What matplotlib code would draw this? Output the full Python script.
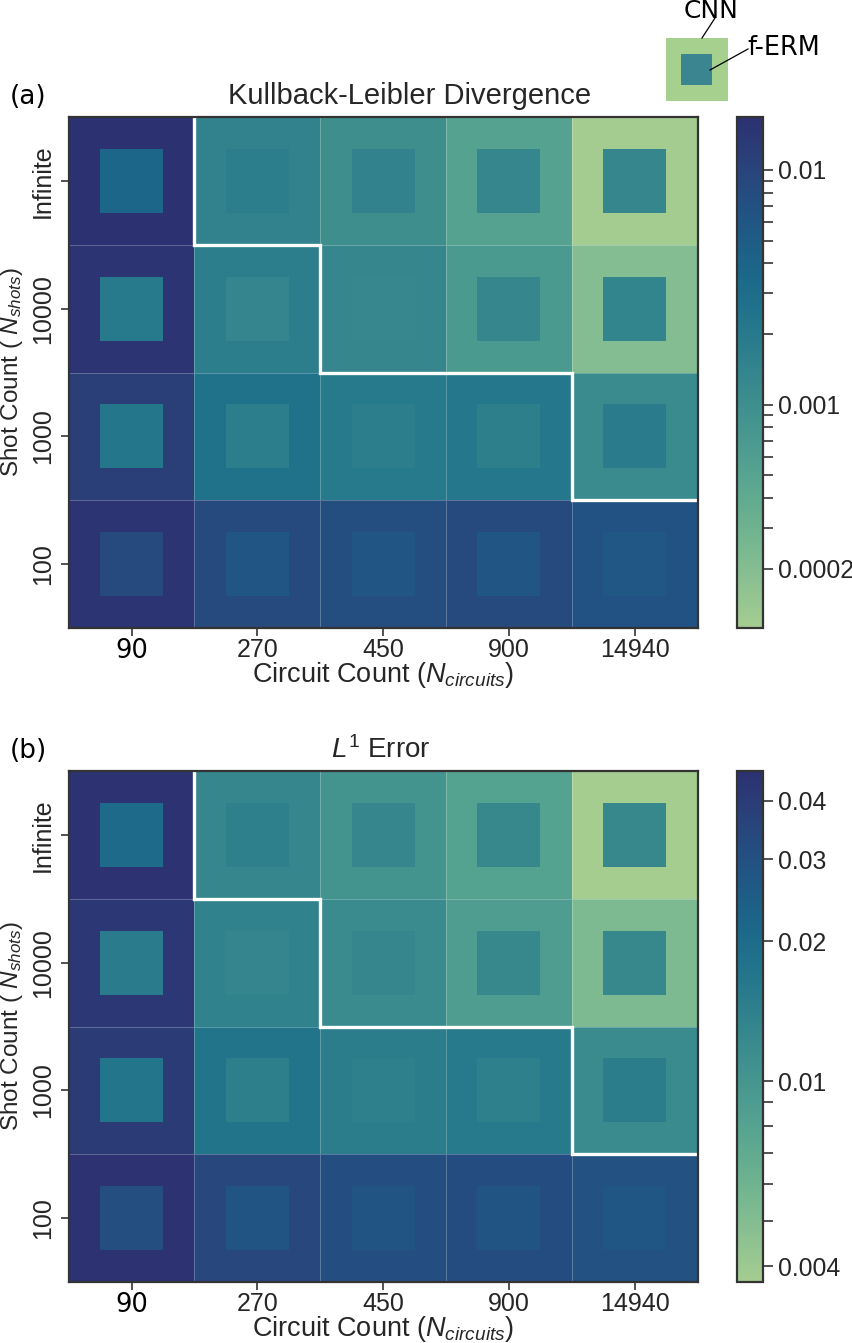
import matplotlib
matplotlib.use('Agg')
import matplotlib.pyplot as plt
from matplotlib.colors import LogNorm
from matplotlib.patches import Rectangle
from matplotlib.ticker import FixedLocator, FixedFormatter, NullFormatter
import numpy as np
import seaborn as sns

circuits = ['90', '270', '450', '900', '14940']
shots = ['Infinite', '10000', '1000', '100']

# outer square = CNN, inner square = f-ERM
kl_cnn = [[.0168, .00150, .00102, .00052, .000115],
          [.0155, .00176, .0013, .00068, .000205],
          [.0118, .0026, .00205, .00215, .00112],
          [.0155, .0085, .0078, .0085, .0066]]
kl_erm = [[.00368, .00176, .0015, .0013, .0013],
          [.00205, .00137, .00122, .0013, .00145],
          [.00226, .00176, .00176, .00167, .00186],
          [.0085, .0062, .0062, .0062, .0058]]
l1_cnn = [[.0453, .0128, .0104, .0081, .0037],
          [.0418, .0139, .0118, .0089, .0053],
          [.0408, .0173, .0150, .0161, .0119],
          [.0453, .0342, .0309, .0318, .0295]]
l1_erm = [[.0206, .0143, .0128, .0125, .0125],
          [.0153, .0130, .0127, .0125, .0125],
          [.0170, .0145, .0143, .0143, .0150],
          [.0310, .0285, .0285, .0285, .0275]]

# how many rows (from the top) sit above the white line, per column
frontier = [0, 1, 2, 2, 3]

kl_lim = (.000112, .0168)
l1_lim = (.0037, .0464)
kl_ticks = [.01, .001, .0002]
kl_ticklabels = ['0.01', '0.001', '0.0002']
kl_minor = [.009, .008, .007, .006, .005, .004, .003, .002,
            .0009, .0008, .0007, .0006, .0005, .0004, .0003]
l1_ticks = [.04, .03, .02, .01, .004]
l1_ticklabels = ['0.04', '0.03', '0.02', '0.01', '0.004']
l1_minor = [.009, .008, .007, .006, .005]

W, H = 853, 1343
DARK = '#333333'
plt.rcParams['font.family'] = ['Liberation Sans', 'DejaVu Sans']
plt.rcParams['mathtext.fontset'] = 'custom'
plt.rcParams['mathtext.rm'] = 'Liberation Sans'
plt.rcParams['mathtext.it'] = 'Liberation Sans:italic'
plt.rcParams['text.color'] = '#262626'
cmap = sns.color_palette('crest', as_cmap=True)

fig = plt.figure(figsize=(W / 100, H / 100), dpi=100)


def box(x0, y0, x1, y1):
    return [x0 / W, 1 - y1 / H, (x1 - x0) / W, (y1 - y0) / H]


def heat(top, bottom, title, title_x, title_size, label, cnn, erm, lim, ticks, ticklabels, minor):
    ax = fig.add_axes(box(68.6, top, 697.6, bottom))
    cax = fig.add_axes(box(737.5, top, 763, bottom))
    norm = LogNorm(*lim)
    cnn = np.array(cnn)
    erm = np.array(erm)
    mesh = ax.pcolormesh(cnn, cmap=cmap, norm=norm, edgecolors=(1, 1, 1, .25), linewidth=.6)
    for r in range(len(shots)):
        for c in range(len(circuits)):
            ax.add_patch(Rectangle((c + .25, r + .25), .5, .5, lw=0,
                                   fc=cmap(norm(erm[r, c]))))
    ax.set_xlim(0, len(circuits))
    ax.set_ylim(len(shots), 0)

    # staircase between the two regimes
    xs, ys = [1], [0]
    for c in range(1, len(circuits)):
        xs += [c, c + 1]
        ys += [frontier[c], frontier[c]]
        if c + 1 < len(circuits) and frontier[c + 1] != frontier[c]:
            xs.append(c + 1)
            ys.append(frontier[c + 1])
    ax.plot(xs, ys, color='white', lw=2.4, solid_joinstyle='miter', clip_on=True)

    ax.set_xticks(np.arange(len(circuits)) + .5)
    ax.set_yticks(np.arange(len(shots)) + .5)
    ax.set_xticklabels(circuits, fontsize=18)
    ax.set_yticklabels(shots, fontsize=18, rotation=90, va='center')
    ax.tick_params(length=6, width=1.2, color=DARK, labelcolor='#262626', pad=4)
    ax.tick_params(axis='x', pad=1.5)
    ax.get_xticklabels()[0].set_family('DejaVu Sans')
    ax.get_xticklabels()[0].set_color('black')
    ax.get_xticklabels()[0].set_fontsize(18.5)
    for s in ax.spines.values():
        s.set_linewidth(1.6)
        s.set_color(DARK)

    fig.text(title_x / W, 1 - (top - 21) / H, title, fontsize=title_size, ha='center', va='center')
    fig.text(383 / W, 1 - (bottom + 47) / H, r'Circuit Count ($N_{circuits}$)',
             fontsize=19.5, ha='center', va='center')
    fig.text(12 / W, 1 - (top + 255) / H, r'Shot Count ( $N_{shots}$)', fontsize=17.5,
             rotation=90, ha='center', va='center')
    fig.text(10 / W, 1 - (top - 20) / H, label, fontsize=19, family='DejaVu Sans',
             color='black', ha='left', va='center')

    cb = fig.colorbar(mesh, cax=cax)
    cb.ax.yaxis.set_major_locator(FixedLocator(ticks))
    cb.ax.yaxis.set_major_formatter(FixedFormatter(ticklabels))
    cb.ax.yaxis.set_minor_locator(FixedLocator(minor))
    cb.ax.yaxis.set_minor_formatter(NullFormatter())
    cb.ax.tick_params(which='both', length=7, width=1.2, color=DARK, labelcolor='#262626')
    cb.ax.tick_params(which='major', labelsize=17.8, pad=4)
    cb.outline.set_linewidth(1.6)
    cb.outline.set_edgecolor(DARK)


heat(117, 628, 'Kullback-Leibler Divergence', 409.5, 21, '(a)', kl_cnn, kl_erm, kl_lim,
     kl_ticks, kl_ticklabels, kl_minor)
heat(771, 1282, r'$L^1$ Error', 381, 20, '(b)', l1_cnn, l1_erm, l1_lim,
     l1_ticks, l1_ticklabels, l1_minor)

# little key in the top right corner
key = fig.add_axes(box(666, 38, 728, 101))
key.set_axis_off()
key.set_xlim(0, 1)
key.set_ylim(1, 0)
key.add_patch(Rectangle((0, 0), 1, 1, lw=0, fc='#a6d08e'))
key.add_patch(Rectangle((.25, .25), .5, .5, lw=0, fc='#3a858f'))
over = fig.add_axes([0, 0, 1, 1])
over.set_axis_off()
over.set_xlim(0, W)
over.set_ylim(H, 0)
over.plot([715, 702], [18, 38], color='black', lw=.9)
over.plot([748, 710], [49, 70], color='black', lw=.9)
over.text(711, 10.5, 'CNN', family='DejaVu Sans', fontsize=18, color='black', ha='center', va='center')
over.text(784, 48, 'f-ERM', family='DejaVu Sans', fontsize=18.4, color='black', ha='center', va='center')

fig.savefig('out.png', dpi=100)
